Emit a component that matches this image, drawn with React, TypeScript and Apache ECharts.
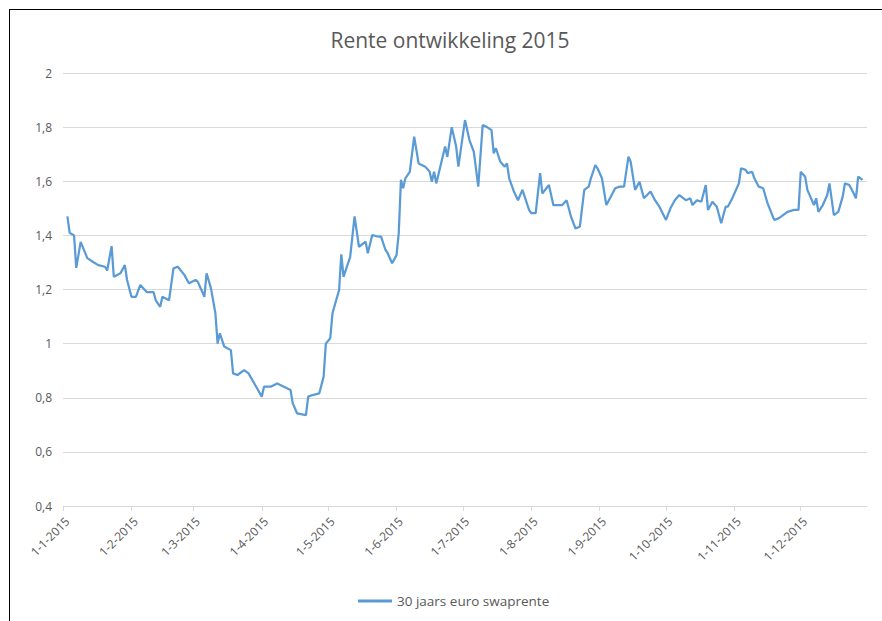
import React, { useEffect, useRef } from "react";
import * as echarts from "echarts";

const TITLE = "Rente ontwikkeling 2015";
const SERIES_NAME = "30 jaars euro swaprente";
const YEAR = 2015;

const obsDates: string[] = [
  "2015-01-03", "2015-01-04", "2015-01-06", "2015-01-07", "2015-01-09", "2015-01-12",
  "2015-01-15", "2015-01-17", "2015-01-20", "2015-01-21", "2015-01-23", "2015-01-24",
  "2015-01-27", "2015-01-29", "2015-01-30", "2015-02-01", "2015-02-03", "2015-02-05",
  "2015-02-08", "2015-02-11", "2015-02-12", "2015-02-14", "2015-02-15", "2015-02-18",
  "2015-02-20", "2015-02-22", "2015-02-25", "2015-02-27", "2015-03-02", "2015-03-03",
  "2015-03-06", "2015-03-07", "2015-03-09", "2015-03-11", "2015-03-12", "2015-03-13",
  "2015-03-15", "2015-03-18", "2015-03-19", "2015-03-21", "2015-03-24", "2015-03-26",
  "2015-03-29", "2015-04-01", "2015-04-02", "2015-04-05", "2015-04-08", "2015-04-11",
  "2015-04-14", "2015-04-15", "2015-04-17", "2015-04-21", "2015-04-22", "2015-04-24",
  "2015-04-27", "2015-04-29", "2015-04-30", "2015-05-02", "2015-05-03", "2015-05-06",
  "2015-05-07", "2015-05-08", "2015-05-11", "2015-05-13", "2015-05-15", "2015-05-18",
  "2015-05-19", "2015-05-21", "2015-05-24", "2015-05-25", "2015-05-27", "2015-05-28",
  "2015-05-30", "2015-06-01", "2015-06-02", "2015-06-03", "2015-06-04", "2015-06-05",
  "2015-06-07", "2015-06-09", "2015-06-11", "2015-06-14", "2015-06-16", "2015-06-17",
  "2015-06-18", "2015-06-19", "2015-06-21", "2015-06-23", "2015-06-24", "2015-06-26",
  "2015-06-28", "2015-06-29", "2015-07-02", "2015-07-04", "2015-07-06", "2015-07-08",
  "2015-07-10", "2015-07-12", "2015-07-14", "2015-07-15", "2015-07-16", "2015-07-18",
  "2015-07-20", "2015-07-21", "2015-07-22", "2015-07-24", "2015-07-26", "2015-07-28",
  "2015-07-31", "2015-08-01", "2015-08-03", "2015-08-05", "2015-08-06", "2015-08-09",
  "2015-08-11", "2015-08-13", "2015-08-15", "2015-08-17", "2015-08-19", "2015-08-21",
  "2015-08-23", "2015-08-25", "2015-08-27", "2015-08-28", "2015-08-30", "2015-08-31",
  "2015-09-02", "2015-09-04", "2015-09-06", "2015-09-08", "2015-09-10", "2015-09-12",
  "2015-09-14", "2015-09-15", "2015-09-17", "2015-09-19", "2015-09-21", "2015-09-24",
  "2015-09-26", "2015-09-28", "2015-10-01", "2015-10-03", "2015-10-05", "2015-10-07",
  "2015-10-10", "2015-10-12", "2015-10-13", "2015-10-15", "2015-10-17", "2015-10-19",
  "2015-10-20", "2015-10-22", "2015-10-24", "2015-10-26", "2015-10-28", "2015-10-29",
  "2015-10-31", "2015-11-03", "2015-11-04", "2015-11-06", "2015-11-07", "2015-11-09",
  "2015-11-10", "2015-11-12", "2015-11-14", "2015-11-16", "2015-11-19", "2015-11-21",
  "2015-11-23", "2015-11-25", "2015-11-28", "2015-11-30", "2015-12-01", "2015-12-03",
  "2015-12-04", "2015-12-07", "2015-12-08", "2015-12-09", "2015-12-11", "2015-12-13",
  "2015-12-14", "2015-12-16", "2015-12-18", "2015-12-20", "2015-12-21", "2015-12-23",
  "2015-12-25", "2015-12-26", "2015-12-27", "2015-12-29",
];

const obsValues: number[] = [
  1.47, 1.41, 1.40, 1.28, 1.376, 1.316,
  1.30, 1.29, 1.284, 1.27, 1.36, 1.247,
  1.26, 1.29, 1.235, 1.173, 1.173, 1.217,
  1.19, 1.19, 1.16, 1.136, 1.173, 1.16,
  1.278, 1.284, 1.253, 1.223, 1.235, 1.229,
  1.173, 1.26, 1.204, 1.112, 1.0, 1.038,
  0.989, 0.976, 0.89, 0.884, 0.902, 0.89,
  0.847, 0.804, 0.841, 0.841, 0.853, 0.841,
  0.829, 0.78, 0.742, 0.736, 0.804, 0.81,
  0.816, 0.878, 1.0, 1.02, 1.112, 1.198,
  1.33, 1.247, 1.32, 1.47, 1.358, 1.377,
  1.334, 1.401, 1.395, 1.395, 1.346, 1.334,
  1.297, 1.327, 1.408, 1.605, 1.574, 1.611,
  1.635, 1.765, 1.666, 1.654, 1.635, 1.598,
  1.635, 1.592, 1.66, 1.728, 1.69, 1.80,
  1.728, 1.654, 1.826, 1.752, 1.709, 1.58,
  1.808, 1.80, 1.789, 1.703, 1.722, 1.672,
  1.654, 1.666, 1.611, 1.565, 1.53, 1.568,
  1.494, 1.482, 1.482, 1.63, 1.555, 1.586,
  1.512, 1.512, 1.512, 1.53, 1.469, 1.426,
  1.432, 1.568, 1.58, 1.611, 1.66, 1.648,
  1.611, 1.512, 1.543, 1.574, 1.58, 1.58,
  1.691, 1.672, 1.568, 1.598, 1.537, 1.562,
  1.53, 1.506, 1.457, 1.50, 1.53, 1.549,
  1.53, 1.537, 1.512, 1.53, 1.524, 1.586,
  1.494, 1.524, 1.506, 1.445, 1.506, 1.506,
  1.537, 1.592, 1.648, 1.642, 1.63, 1.635,
  1.611, 1.58, 1.574, 1.518, 1.457, 1.463,
  1.475, 1.487, 1.494, 1.494, 1.635, 1.617,
  1.568, 1.512, 1.537, 1.487, 1.512, 1.549,
  1.592, 1.475, 1.487, 1.543, 1.592, 1.586,
  1.555, 1.537, 1.617, 1.605,
];

const yTicks = { min: 0.4, max: 2, interval: 0.2 };

const FONT = "'Open Sans', 'Noto Sans', sans-serif";
const TEXT_COLOR = "#595959";
const GRID_COLOR = "#d9d9d9";
const LINE_COLOR = "#5b9bd5";

function pad(n: number) {
  return n < 10 ? "0" + n : String(n);
}

// all days of the year as categories
function buildDays(): string[] {
  const out: string[] = [];
  const d = new Date(Date.UTC(YEAR, 0, 1));
  while (d.getUTCFullYear() === YEAR) {
    out.push(`${d.getUTCFullYear()}-${pad(d.getUTCMonth() + 1)}-${pad(d.getUTCDate())}`);
    d.setUTCDate(d.getUTCDate() + 1);
  }
  return out;
}

function formatDay(iso: string) {
  const [y, m, d] = iso.split("-");
  return `${parseInt(d, 10)}-${parseInt(m, 10)}-${y}`;
}

export default function App() {
  const ref = useRef<HTMLDivElement>(null);

  useEffect(() => {
    if (!ref.current) return;
    const chart = echarts.init(ref.current, undefined, { renderer: "svg" });
    const days = buildDays();
    const lookup: Record<string, number> = {};
    obsDates.forEach((d, i) => (lookup[d] = obsValues[i]));
    const seriesData = days.map((d) => (d in lookup ? lookup[d] : null));
    const isMonthStart = (_i: number, v: string) => v.endsWith("-01");

    chart.setOption({
      animation: false,
      backgroundColor: "#ffffff",
      title: {
        text: TITLE,
        left: 440,
        textAlign: "center",
        top: 19,
        padding: 0,
        textStyle: {
          fontFamily: FONT,
          fontSize: 21,
          fontWeight: "normal",
          color: TEXT_COLOR,
        },
      },
      legend: {
        left: 348,
        top: 584,
        padding: 0,
        icon: "rect",
        itemWidth: 34,
        itemHeight: 3,
        textStyle: { fontFamily: FONT, fontSize: 13.5, color: TEXT_COLOR },
        data: [SERIES_NAME],
      },
      grid: { left: 53, right: 15, top: 63, bottom: 115, containLabel: false },
      xAxis: {
        type: "category",
        data: days,
        boundaryGap: false,
        axisLine: { lineStyle: { color: GRID_COLOR, width: 1 } },
        axisTick: {
          show: true,
          interval: isMonthStart,
          length: 5,
          lineStyle: { color: GRID_COLOR },
        },
        axisLabel: {
          interval: isMonthStart,
          rotate: 45,
          margin: 9,
          verticalAlign: "top",
          formatter: (v: string) => formatDay(v),
          fontFamily: FONT,
          fontSize: 12,
          color: TEXT_COLOR,
        },
        splitLine: { show: false },
      },
      yAxis: {
        type: "value",
        min: yTicks.min,
        max: yTicks.max,
        interval: yTicks.interval,
        axisLine: { show: false },
        axisTick: { show: false },
        axisLabel: {
          margin: 11,
          formatter: (v: number) => String(+v.toFixed(1)).replace(".", ","),
          fontFamily: FONT,
          fontSize: 12,
          color: TEXT_COLOR,
        },
        splitLine: { lineStyle: { color: GRID_COLOR, width: 1 } },
      },
      series: [
        {
          name: SERIES_NAME,
          type: "line",
          data: seriesData,
          connectNulls: true,
          symbol: "none",
          lineStyle: { color: LINE_COLOR, width: 2.25 },
          itemStyle: { color: LINE_COLOR },
        },
      ],
    });

    return () => chart.dispose();
  }, []);

  return (
    <div
      style={{
        position: "fixed",
        left: 9,
        top: 9,
        width: 873,
        height: 612,
        borderLeft: "1px solid #000",
        borderTop: "1px solid #000",
        background: "#fff",
      }}
    >
      <div ref={ref} style={{ width: 872, height: 611 }} />
    </div>
  );
}
